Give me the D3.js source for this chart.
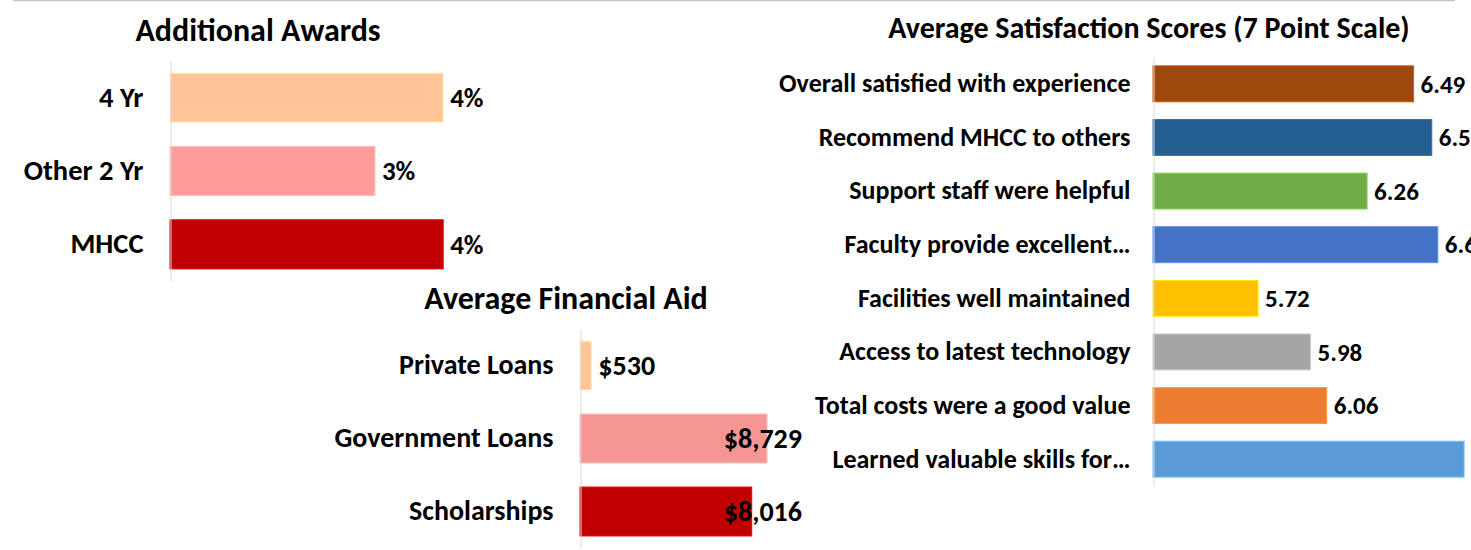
<!DOCTYPE html>
<html>
<head>
<meta charset="utf-8">
<script src="https://cdn.jsdelivr.net/npm/d3@7"></script>
<style>
    body { margin: 0; background: #ffffff; }
    svg text { font-family: Calibri, Carlito, Lato, sans-serif; font-weight: bold; fill: #000000; }
</style>
</head>
<body>
<svg id="chartSVG"></svg>
<script>
/* ---------- Data ---------- */
const awardCategories = ["4 Yr", "Other 2 Yr", "MHCC"];
const awardValues = [4, 3, 4];
const awardColours = ["#FFC599", "#FF9B9B", "#C00000"];

const aidCategories = ["Private Loans", "Government Loans", "Scholarships"];
const aidValues = [530, 8729, 8016];
const aidColours = ["#FFC599", "#F59594", "#C00000"];

const satisfactionCategories = [
    "Overall satisfied with experience",
    "Recommend MHCC to others",
    "Support staff were helpful",
    "Faculty provide excellent\u2026",
    "Facilities well maintained",
    "Access to latest technology",
    "Total costs were a good value",
    "Learned valuable skills for\u2026"
];
const satisfactionValues = [6.49, 6.58, 6.26, 6.61, 5.72, 5.98, 6.06, 6.74];
const satisfactionColours = ["#9E480E", "#255E91", "#70AD47", "#4472C4", "#FFC000", "#A5A5A5", "#ED7D31", "#5B9BD5"];

const svgWidth = 1471;
const svgHeight = 550;

var svg = d3.select("#chartSVG")
    .attr("width", svgWidth)
    .attr("height", svgHeight);

// thin grey frame line across the top of the page
svg.append("line")
    .attr("x1", 13).attr("x2", 1455)
    .attr("y1", 0.5).attr("y2", 0.5)
    .attr("stroke", "#C8C8C8")
    .attr("stroke-width", 1.5);

/**
 * draws one horizontal bar chart.
 * @param {Object} opt categories, values, colours and the layout of the chart
 */
var drawBarChart = function(opt) {
    var g = svg.append("g");

    var yScale = d3.scaleBand()
        .domain(opt.categories)
        .range([opt.top, opt.bottom])
        .paddingInner(0.33)
        .paddingOuter(0.165);
    var xScale = d3.scaleLinear()
        .domain(opt.domain)
        .range([opt.left, opt.left + opt.pxPerUnit * (opt.domain[1] - opt.domain[0])]);

    /* ---------- Title ---------- */
    g.append("text")
        .text(opt.title)
        .attr("x", opt.titleX)
        .attr("y", opt.titleY)
        .attr("text-anchor", "middle")
        .style("font-size", opt.titleSize + "px");

    /* ---------- Bars ---------- */
    g.selectAll("rect")
        .data(opt.values)
        .enter().append("rect")
            .attr("x", xScale(opt.domain[0]))
            .attr("y", (d, i) => yScale(opt.categories[i]))
            .attr("width", d => xScale(d) - xScale(opt.domain[0]))
            .attr("height", yScale.bandwidth())
            .attr("fill", (d, i) => opt.colours[i])
            .attr("stroke", (d, i) => d3.color(opt.colours[i]).brighter(0.6))
            .attr("stroke-width", 1);

    /* ---------- Category axis ---------- */
    var yAxis = d3.axisLeft(yScale).tickSize(0).tickSizeOuter(0).tickPadding(opt.labelGap);
    var axisG = g.append("g")
        .attr("transform", "translate(" + (opt.left + 0.5) + ",0)")
        .call(yAxis);
    axisG.select(".domain")
        .attr("stroke", "#D9D9D9")
        .attr("stroke-width", 1);
    axisG.selectAll(".tick text")
        .style("font-family", "Calibri, Carlito, Lato, sans-serif")
        .style("font-weight", "bold")
        .style("font-size", opt.labelSize + "px")
        .attr("fill", "#000000");

    /* ---------- Value labels ---------- */
    g.selectAll(".value")
        .data(opt.values)
        .enter().append("text")
            .attr("class", "value")
            .text(d => opt.format(d))
            .attr("x", d => xScale(d) + 7)
            .attr("y", (d, i) => yScale(opt.categories[i]) + yScale.bandwidth() / 2)
            .attr("dy", "0.35em")
            .style("font-size", opt.valueSize + "px")
            .each(function() {
                // keep labels inside the plot area, as the spreadsheet does
                if (opt.labelLimit) {
                    var w = this.getComputedTextLength();
                    var x = +d3.select(this).attr("x");
                    if (x + w > opt.labelLimit) {
                        d3.select(this).attr("x", opt.labelLimit - w);
                    }
                }
            });
};

drawBarChart({
    title: "Additional Awards",
    titleX: 258, titleY: 41, titleSize: 32,
    categories: awardCategories,
    values: awardValues,
    colours: awardColours,
    domain: [0, 5],
    pxPerUnit: 68.3,
    left: 170, top: 61, bottom: 281,
    labelGap: 27, labelSize: 28.5, valueSize: 27,
    format: d => d + "%"
});

drawBarChart({
    title: "Average Financial Aid",
    titleX: 566, titleY: 309, titleSize: 32,
    categories: aidCategories,
    values: aidValues,
    colours: aidColours,
    domain: [0, 10000],
    pxPerUnit: 0.02142,
    left: 580, top: 329, bottom: 548,
    labelGap: 27, labelSize: 28, valueSize: 28,
    labelLimit: 802,
    format: d => "$" + d3.format(",")(d)
});

drawBarChart({
    title: "Average Satisfaction Scores (7 Point Scale)",
    titleX: 1149, titleY: 38, titleSize: 30,
    categories: satisfactionCategories,
    values: satisfactionValues,
    colours: satisfactionColours,
    domain: [5.2, 7],
    pxPerUnit: 202,
    left: 1153, top: 57, bottom: 486,
    labelGap: 23, labelSize: 26, valueSize: 25,
    format: d => d3.format(".2f")(d)
});
</script>
</body>
</html>
